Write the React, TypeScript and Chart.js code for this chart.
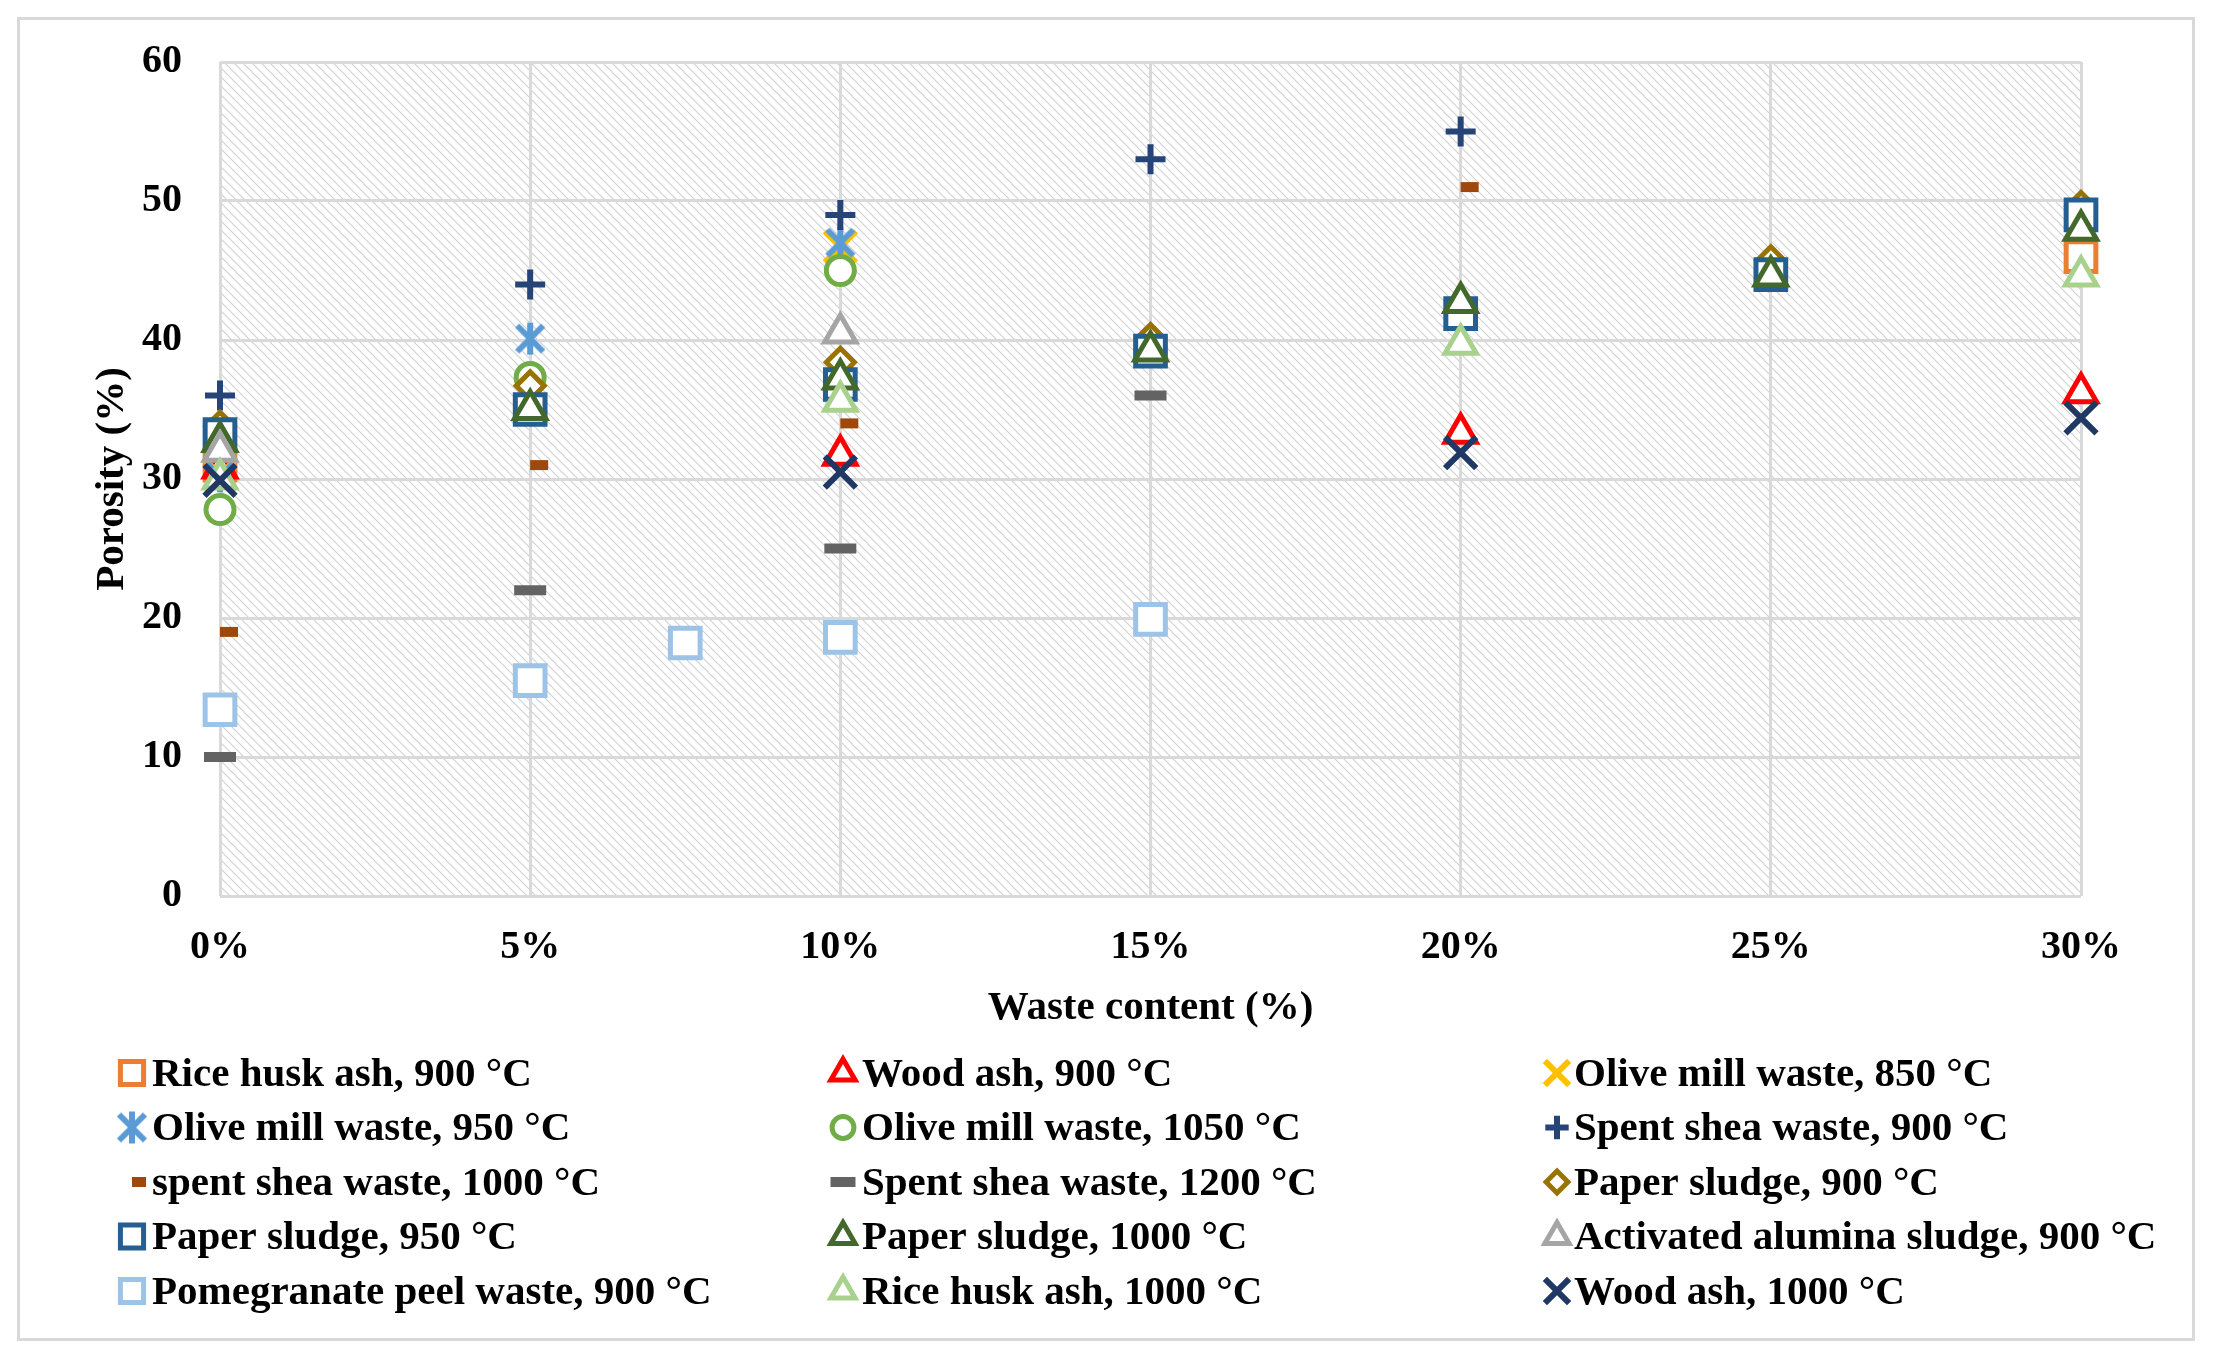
import { useEffect, useRef } from 'react';
import { Chart, registerables } from 'chart.js';
import { drawPoint } from 'chart.js/helpers';
Chart.register(...registerables);

const FONT = "'Times New Roman', 'Liberation Serif', serif";

// waste content levels (%) used by most series
const wasteLevels = [0, 5, 10, 15, 20, 25, 30];
const pomegranateLevels = [0, 5, 7.5, 10, 15];

// porosity (%) per series, null = not measured
const riceHusk900 = [31, null, null, null, null, null, 46];
const woodAsh900 = [30.8, null, 31.7, null, 33.3, null, 36.2];
const oliveMill850 = [30.3, null, 46.7, null, null, null, null];
const oliveMill950 = [30.2, 40.1, 47, null, null, null, null];
const oliveMill1050 = [27.8, 37.3, 45, null, null, null, null];
const spentShea900 = [36, 44, 49, 53, 55, null, null];
const spentShea1000 = [19, 31, 34, null, 51, null, null];
const spentShea1200 = [10, 22, 25, 36, 41.6, null, null];
const paperSludge900 = [33.8, 36.7, 38.4, 40.1, null, 45.7, 49.6];
const paperSludge950 = [33.2, 35, 36.8, 39.2, 41.9, 44.7, 49];
const paperSludge1000 = [32.7, 35, 37.2, 39.2, 42.7, 44.6, 47.9];
const alumina900 = [32, null, 40.5, null, null, null, null];
const pomegranate900 = [13.4, 15.5, 18.2, 18.6, 19.9];
const riceHusk1000 = [30, null, 35.6, null, 39.7, null, 44.6];
const woodAsh1000 = [29.9, null, 30.5, null, 31.9, null, 34.4];

const seriesLabels = [
  'Rice husk ash, 900 °C',
  'Wood ash, 900 °C',
  'Olive mill waste, 850 °C',
  'Olive mill waste, 950 °C',
  'Olive mill waste, 1050 °C',
  'Spent shea waste, 900 °C',
  'spent shea waste, 1000 °C',
  'Spent shea waste, 1200 °C',
  'Paper sludge, 900 °C',
  'Paper sludge, 950 °C',
  'Paper sludge, 1000 °C',
  'Activated alumina sludge, 900 °C',
  'Pomegranate peel waste, 900 °C',
  'Rice husk ash, 1000 °C',
  'Wood ash, 1000 °C',
];

const seriesValues = [
  riceHusk900, woodAsh900, oliveMill850, oliveMill950, oliveMill1050,
  spentShea900, spentShea1000, spentShea1200, paperSludge900, paperSludge950,
  paperSludge1000, alumina900, pomegranate900, riceHusk1000, woodAsh1000,
];
const seriesLevels = seriesValues.map((_, i) => (i === 12 ? pomegranateLevels : wasteLevels));

const yTicks = [0, 10, 20, 30, 40, 50, 60];

function makeAsterisk(color: string, size: number, lw: number) {
  const c = document.createElement('canvas');
  c.width = size;
  c.height = size;
  const g = c.getContext('2d')!;
  g.strokeStyle = color;
  g.lineWidth = lw;
  const m = lw / 2 + 1;
  g.beginPath();
  g.moveTo(m, m);
  g.lineTo(size - m, size - m);
  g.moveTo(size - m, m);
  g.lineTo(m, size - m);
  g.moveTo(size / 2, 1);
  g.lineTo(size / 2, size - 1);
  g.stroke();
  return c;
}

type St = { color: string; style: any; radius: number; bw: number };
function seriesStyles(): St[] {
  return [
    { color: '#ED7D31', style: 'rect', radius: 21, bw: 5 },
    { color: '#FF0000', style: 'triangle', radius: 18, bw: 5 },
    { color: '#FFC000', style: 'crossRot', radius: 22, bw: 6 },
    { color: '#5B9BD5', style: makeAsterisk('#5B9BD5', 34, 6), radius: 15, bw: 6 },
    { color: '#70AD47', style: 'circle', radius: 14, bw: 5 },
    { color: '#264478', style: 'cross', radius: 15, bw: 6 },
    { color: '#9E480E', style: 'dash', radius: 18, bw: 10 },
    { color: '#636363', style: 'line', radius: 16, bw: 10 },
    { color: '#997300', style: 'rectRot', radius: 14, bw: 5 },
    { color: '#255E91', style: 'rect', radius: 21, bw: 5 },
    { color: '#43682B', style: 'triangle', radius: 18, bw: 5 },
    { color: '#A5A5A5', style: 'triangle', radius: 18, bw: 5 },
    { color: '#9DC3E6', style: 'rect', radius: 21, bw: 5 },
    { color: '#A9D18E', style: 'triangle', radius: 18, bw: 5 },
    { color: '#203864', style: 'crossRot', radius: 22, bw: 6 },
  ];
}

const LEGEND_MARK_X = [132, 843, 1557];
const LEGEND_TEXT_X = [152, 862, 1574];
const LEGEND_TOP = 1073;
const LEGEND_ROW = 54.5;

export default function App() {
  const ref = useRef<HTMLCanvasElement | null>(null);
  useEffect(() => {
    document.body.style.margin = '0';
    if (!ref.current) return;
    const ctx = ref.current.getContext('2d');
    if (!ctx) return;
    const styles = seriesStyles();

    // hatch tile for plot background
    const tile = document.createElement('canvas');
    const s = 9;
    tile.width = s;
    tile.height = s;
    const tg = tile.getContext('2d')!;
    tg.fillStyle = '#fff';
    tg.fillRect(0, 0, s, s);
    tg.strokeStyle = '#D0D0D0';
    tg.lineWidth = 1.1;
    tg.beginPath();
    for (const k of [-s, 0, s]) {
      tg.moveTo(-1, -1 + k);
      tg.lineTo(s + 1, s + 1 + k);
    }
    tg.stroke();

    const bgPlugin = {
      id: 'bg',
      beforeDraw(chart: any) {
        const c = chart.ctx;
        const { left, top, right, bottom } = chart.chartArea;
        c.save();
        c.fillStyle = '#fff';
        c.fillRect(0, 0, chart.width, chart.height);
        c.strokeStyle = '#D9D9D9';
        c.lineWidth = 3;
        c.strokeRect(18.5, 18.5, 2175, 1321);
        c.fillStyle = c.createPattern(tile, 'repeat');
        c.fillRect(left, top, right - left, bottom - top);
        c.restore();
      },
    };

    const legendPlugin = {
      id: 'gridLegend',
      afterDraw(chart: any) {
        const c = chart.ctx;
        c.save();
        c.font = `bold 41px ${FONT}`;
        c.textBaseline = 'middle';
        seriesLabels.forEach((label, i) => {
          const col = i % 3;
          const row = Math.floor(i / 3);
          const y = LEGEND_TOP + row * LEGEND_ROW;
          const st = styles[i];
          c.save();
          c.strokeStyle = st.color;
          c.fillStyle = '#fff';
          c.lineWidth = st.bw;
          drawPoint(c, { pointStyle: st.style, radius: st.radius * 0.78, rotation: 0, borderWidth: st.bw } as any, LEGEND_MARK_X[col], y);
          c.restore();
          c.fillStyle = '#000';
          c.fillText(label, LEGEND_TEXT_X[col], y + 2);
        });
        c.restore();
      },
    };

    const datasets = seriesValues.map((vals, i) => {
      const xs = seriesLevels[i];
      const pts = vals
        .map((v, j) => (v === null ? null : { x: xs[j], y: v }))
        .filter((p) => p !== null);
      const st = styles[i];
      return {
        label: seriesLabels[i],
        data: pts,
        showLine: false,
        pointStyle: st.style,
        pointRadius: st.radius,
        pointBorderWidth: st.bw,
        pointBorderColor: st.color,
        pointBackgroundColor: '#fff',
        clip: false as any,
        order: seriesValues.length - i,
      };
    });

    const tickFont = { family: FONT, size: 40, weight: 'bold' as const };
    const chart = new Chart(ctx, {
      type: 'scatter',
      data: { datasets: datasets as any },
      options: {
        responsive: false,
        animation: false,
        devicePixelRatio: 1,
        events: [],
        layout: { padding: { left: 88, right: 132, top: 58, bottom: 322 } },
        plugins: { legend: { display: false }, tooltip: { enabled: false } },
        scales: {
          x: {
            type: 'linear',
            min: 0,
            max: 30,
            afterBuildTicks: (scale: any) => {
              scale.ticks = wasteLevels.map((v) => ({ value: v }));
            },
            afterFit: (scale: any) => {
              scale.height = 137;
            },
            grid: { color: '#D9D9D9', lineWidth: 3, drawTicks: false },
            border: { display: false },
            ticks: { color: '#000', font: tickFont, padding: 28, callback: (v: any) => v + '%' },
            title: { display: true, text: 'Waste content (%)', color: '#000', font: { family: FONT, size: 41, weight: 'bold' }, padding: 0 },
          },
          y: {
            type: 'linear',
            min: 0,
            max: 60,
            afterBuildTicks: (scale: any) => {
              scale.ticks = yTicks.map((v) => ({ value: v }));
            },
            afterFit: (scale: any) => {
              scale.width = 132;
            },
            grid: { color: '#D9D9D9', lineWidth: 3, drawTicks: false },
            border: { display: false },
            ticks: { color: '#000', font: tickFont, padding: 38 },
            title: { display: true, text: 'Porosity (%)', color: '#000', font: { family: FONT, size: 41, weight: 'bold' }, padding: 0 },
          },
        },
      },
      plugins: [bgPlugin, legendPlugin],
    });
    return () => chart.destroy();
  }, []);
  return <canvas ref={ref} width={2213} height={1355} style={{ display: 'block', width: 2213, height: 1355 }} />;
}
